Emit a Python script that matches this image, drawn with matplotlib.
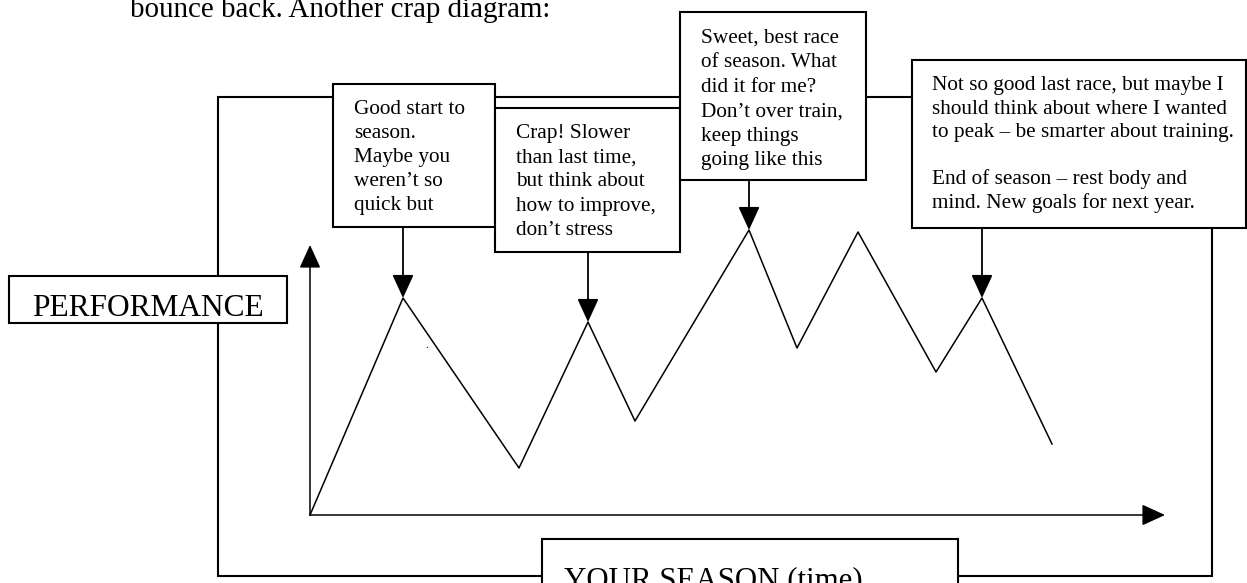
import matplotlib.pyplot as plt
from matplotlib.patches import Rectangle
from matplotlib.transforms import Bbox, TransformedBbox, blended_transform_factory

# performance over the season (origin = axis corner)
season_time = [0, 93, 209, 278, 325, 439, 487, 548, 626, 672, 742]
performance = [0, 217, 47, 193, 94, 285, 167, 283, 143, 217, 71]

# points that get a note box pointing at them
note_peaks = [1, 3, 5, 9]
note_texts = [
    ["Good start to", "season.", "Maybe you", "weren\u2019t so", "quick but"],
    ["Crap! Slower", "than last time,", "but think about",
     "how to improve,", "don\u2019t stress"],
    ["Sweet, best race", "of season. What", "did it for me?",
     "Don\u2019t over train,", "keep things", "going like this"],
    ["Not so good last race, but maybe I",
     "should think about where I wanted",
     "to peak \u2013 be smarter about training.", "",
     "End of season \u2013 rest body and",
     "mind. New goals for next year."],
]
intro = "bounce back. Another crap diagram:"
y_label = "PERFORMANCE"
x_label = "YOUR SEASON (time)"

W, H = 1247, 583
SERIF = "Liberation Serif"

fig = plt.figure(figsize=(W / 100, H / 100), dpi=100)

# page layer in pixel units (y down)
canvas = fig.add_axes([0, 0, 1, 1])
canvas.set_xlim(0, W)
canvas.set_ylim(H, 0)
canvas.axis("off")

# chart layer: origin at (310, 515) px, 1 unit = 1 px
ax = fig.add_axes([310 / W, (H - 515) / H, 855 / W, 270 / H])
ax.set_xlim(0, 855)
ax.set_ylim(0, 270)
ax.axis("off")

# ==============================
# FRAME + BOXES
# ==============================
canvas.add_patch(Rectangle((218, 97), 1212 - 218, 576 - 97, fill=False,
                           lw=1.5, ec="black", zorder=1))

canvas.text(130, 17, intro, fontsize=20.9, family=SERIF, va="baseline")

boxes = [(333, 84, 495, 227), (495, 108, 680, 252),
         (680, 12, 866, 180), (912, 60, 1246, 228)]
text_x = [354, 516, 701, 932]
first_base = [114, 138, 43, 90]
line_gap = [24, 24.2, 24.4, 23.6]

for (x0, y0, x1, y1), lines, tx, fb, gap in zip(boxes, note_texts, text_x,
                                               first_base, line_gap):
    canvas.add_patch(Rectangle((x0, y0), x1 - x0, y1 - y0, fc="white",
                               ec="black", lw=1.5, zorder=2))
    for i, line in enumerate(lines):
        canvas.text(tx, fb + i * gap, line, fontsize=15.3, family=SERIF,
                    va="baseline", zorder=3)

# PERFORMANCE label (bottom of the text is cut off in the original)
canvas.add_patch(Rectangle((9, 276), 287 - 9, 323 - 276, fc="white",
                           ec="black", lw=1.5, zorder=2))
t = canvas.text(32, 316, y_label, fontsize=22.6, family=SERIF,
                va="baseline", zorder=3)
t.set_clip_box(TransformedBbox(Bbox.from_extents(9, 313, 287, 276),
                               canvas.transData))

# YOUR SEASON label
canvas.add_patch(Rectangle((542, 539), 958 - 542, 80, fc="white",
                           ec="black", lw=1.5, zorder=2))
canvas.text(564, 588, x_label, fontsize=22.2, family=SERIF,
            va="baseline", zorder=3)

canvas.text(425, 348, ".", fontsize=8, family=SERIF, va="baseline")

# ==============================
# CHART
# ==============================
head = "-|>,head_length=0.72,head_width=0.33"
ax.annotate("", xy=(0, 270), xytext=(0, 0), annotation_clip=False,
            arrowprops=dict(arrowstyle=head, mutation_scale=20, lw=1.1,
                            color="black", shrinkA=0, shrinkB=0))
ax.annotate("", xy=(855, 0), xytext=(0, 0), annotation_clip=False,
            arrowprops=dict(arrowstyle=head, mutation_scale=20, lw=1.1,
                            color="black", shrinkA=0, shrinkB=0))

ax.plot(season_time, performance, color="black", lw=1.1, clip_on=False)

# arrows from each note box down to its race
note_tr = blended_transform_factory(ax.transData, canvas.transData)
for k, (x0, y0, x1, y1) in zip(note_peaks, boxes):
    ax.annotate("", xy=(season_time[k], performance[k]),
                xytext=(season_time[k], y1), textcoords=note_tr,
                annotation_clip=False,
                arrowprops=dict(arrowstyle=head, mutation_scale=20, lw=1.3,
                                color="black", shrinkA=0, shrinkB=0))

fig.savefig("out.png", dpi=100)
